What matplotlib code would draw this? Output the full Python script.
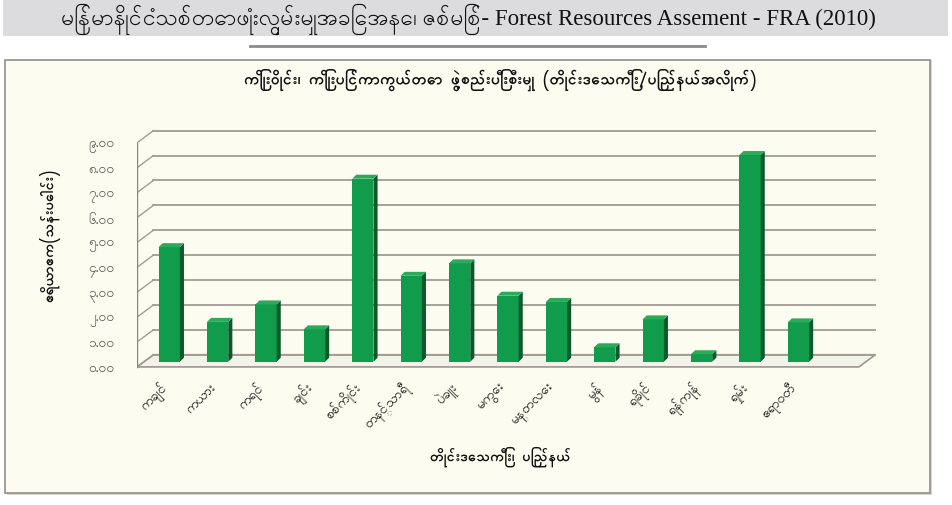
import matplotlib
matplotlib.use("Agg")
import matplotlib.pyplot as plt
from matplotlib.patches import Rectangle, Polygon
from matplotlib import transforms

# data (million acres)
regions = ['ကချင်', 'ကယား', 'ကရင်', 'ချင်း', 'စစ်ကိုင်း', 'တနင်္သာရီ', 'ပဲခူး',
           'မကွေး', 'မန္တလေး', 'မွန်', 'ရခိုင်', 'ရန်ကုန်', 'ရှမ်း', 'ဧရာဝတီ']
area = [4.6, 1.6, 2.3, 1.3, 7.35, 3.45, 3.95, 2.65, 2.4, 0.58, 1.7, 0.3, 8.3, 1.58]
y_ticks = [0, 1, 2, 3, 4, 5, 6, 7, 8, 9]

header = 'မြန်မာနိုင်ငံသစ်တောဖုံးလွှမ်းမှုအခြေအနေ၊ ဇစ်မြစ်- Forest Resources Assement - FRA (2010)'
title = 'ကြိုးဝိုင်း၊ ကြိုးပြင်ကာကွယ်တော ဖွဲ့စည်းပြီးစီးမှု (တိုင်းဒေသကြီး/ပြည်နယ်အလိုက်)'
xlabel = 'တိုင်းဒေသကြီး၊ ပြည်နယ်'
ylabel = 'ဧရိယာဧက(သန်းပေါင်း)'

MY = ['Padauk', 'DejaVu Sans']
MY_DIGITS = str.maketrans('0123456789', '၀၁၂၃၄၅၆၇၈၉')

W, H = 952, 506
fig = plt.figure(figsize=(W / 100, H / 100), dpi=100)
fig.patch.set_facecolor('white')


def fx(px):
    return px / W


def fy(py):
    return 1 - py / H


# page header
fig.patches.append(Rectangle((fx(3), fy(37)), fx(945), 37 / H, transform=fig.transFigure,
                             facecolor='#dcdcde', edgecolor='none', zorder=-3))
fig.text(0.492, fy(19), header, ha='center', va='center', fontsize=16.5,
         family=['Liberation Serif', 'Padauk'], color='#111111')
fig.add_artist(plt.Line2D([fx(250), fx(705)], [fy(47), fy(47)], color='#8a8a8a', lw=2))

# chart frame
fig.patches.append(Rectangle((fx(7), fy(496)), fx(925), 435 / H, transform=fig.transFigure,
                             facecolor='#d8d4d0', edgecolor='none', zorder=-3))
fig.patches.append(Rectangle((fx(5), fy(494)), fx(925), 433 / H, transform=fig.transFigure,
                             facecolor='#fdfcf0', edgecolor='#9c9494', lw=1.3, zorder=-2))
fig.text(fx(500), fy(80), title, ha='center', va='center', fontsize=11.5,
         fontweight='bold', family=MY, color='#111111')

# plot area, bar plane: px = 169.2 + 48.4*x, py = 362.7 - 24.9*y
left, right, top, bottom = 137, 900, 120, 375
ax = fig.add_axes([fx(left), fy(bottom), fx(right - left), (bottom - top) / H])
ax.set_zorder(2)
ax.set_xlim((left - 169.2) / 48.4, (right - 169.2) / 48.4)
ax.set_ylim((362.7 - bottom) / 24.9, (362.7 - top) / 24.9)
ax.set_facecolor('none')
for s in ax.spines.values():
    s.set_visible(False)

FL, FR, FY = ax.get_xlim()[0], 14.25, -0.21
DX, DY = 0.34, 0.49
grid_c = '#a39b96'
top_v = y_ticks[-1]

# back wall, floor and grid
ax.add_patch(Polygon([(FL + DX, FY + DY), (FR + DX, FY + DY), (FR + DX, top_v + FY + DY),
                      (FL + DX, top_v + FY + DY)], closed=True, facecolor='#fdfcf0',
                     edgecolor='none', zorder=0))
ax.add_patch(Polygon([(FL, FY), (FR, FY), (FR + DX, FY + DY), (FL + DX, FY + DY)],
                     closed=True, facecolor='#f4f3ea', edgecolor='#9a9591', lw=1.2, zorder=1))
for v in y_ticks:
    ax.plot([FL + DX, FR + DX], [v + FY + DY, v + FY + DY], color=grid_c, lw=1.3, zorder=1)
    ax.plot([FL, FL + DX], [v + FY, v + FY + DY], color=grid_c, lw=1.0, zorder=1)
ax.plot([FL, FL], [FY, top_v + FY], color='#8a8480', lw=1.0, zorder=1)

# bars with side and top faces
xs = list(range(len(regions)))
bw = 0.44
bdx, bdy = 0.085, 0.16
ax.bar(xs, area, width=bw, color='#119c4b', edgecolor='none', zorder=3)
for x, v in zip(xs, area):
    r = x + bw / 2
    ax.add_patch(Polygon([(r, 0), (r + bdx, bdy), (r + bdx, v + bdy), (r, v)],
                         closed=True, facecolor='#075a2c', edgecolor='none', zorder=3))
    ax.add_patch(Polygon([(x - bw / 2, v), (r, v), (r + bdx, v + bdy), (x - bw / 2 + bdx, v + bdy)],
                         closed=True, facecolor='#2da95c', edgecolor='none', zorder=3))

# ticks
ax.set_yticks([v + FY for v in y_ticks])
ax.set_yticklabels([f'{v:.2f}'.translate(MY_DIGITS) for v in y_ticks],
                   family=MY, fontsize=10, color='#555555')
ax.tick_params(axis='y', length=0, pad=16)
ax.set_xticks(xs)
ax.set_xticklabels(regions, family=MY, fontsize=10, color='#111111',
                   rotation=45, ha='right', va='center', rotation_mode='anchor')
ax.tick_params(axis='x', length=0, pad=8)
shift = transforms.ScaledTranslation(-4 / 100, 0, fig.dpi_scale_trans)
for lab in ax.get_xticklabels():
    lab.set_transform(lab.get_transform() + shift)

fig.text(fx(500), fy(457), xlabel, ha='center', va='center', fontsize=10.5,
         fontweight='bold', family=MY, color='#111111')
fig.text(fx(50), fy(235), ylabel, ha='center', va='center', rotation=90, fontsize=10.5,
         fontweight='bold', family=MY, color='#111111')

fig.savefig('out.png', dpi=100)
